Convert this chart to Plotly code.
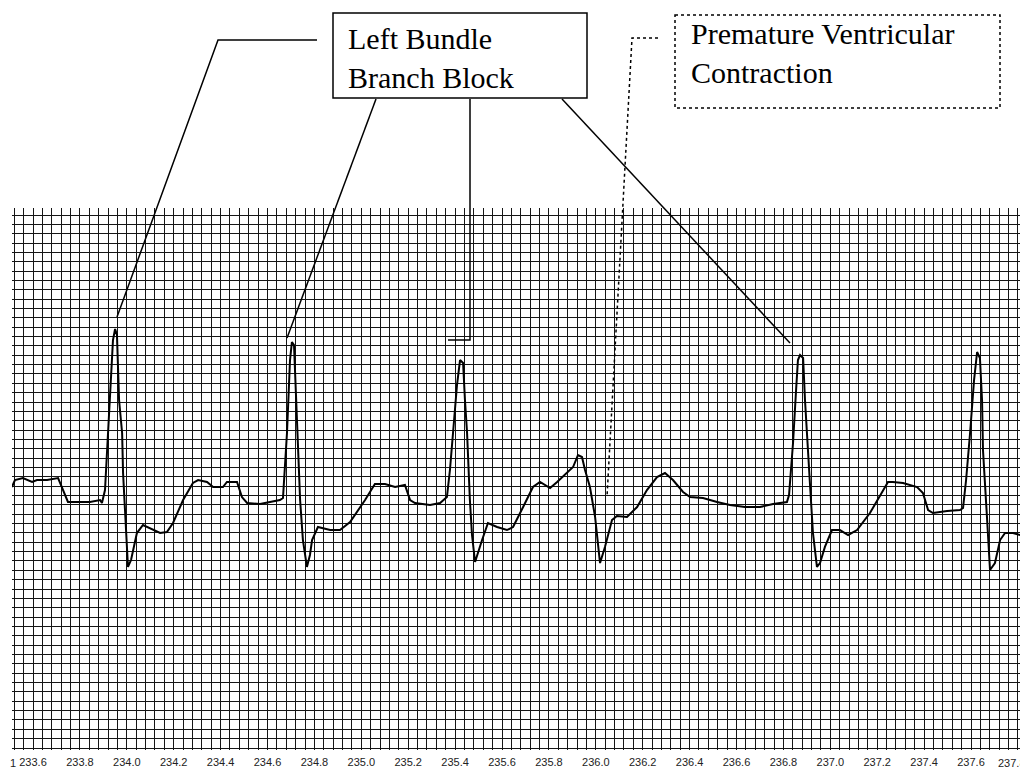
import plotly.graph_objects as go

# ECG trace (time in s, amplitude in mV)
time_s = [
    233.510, 233.523, 233.557, 233.596, 233.617, 233.660, 233.707, 233.728, 233.749, 233.800,
    233.843, 233.886, 233.894, 233.907, 233.924, 233.941, 233.950, 233.958, 233.967, 233.980,
    233.984, 233.992, 234.005, 234.018, 234.043, 234.069, 234.099, 234.142, 234.171, 234.197,
    234.240, 234.282, 234.304, 234.342, 234.368, 234.410, 234.427, 234.470, 234.491, 234.513,
    234.568, 234.653, 234.666, 234.683, 234.696, 234.704, 234.713, 234.722, 234.730, 234.739,
    234.751, 234.768, 234.781, 234.790, 234.815, 234.867, 234.909, 234.952, 235.016, 235.058,
    235.101, 235.144, 235.186, 235.208, 235.229, 235.293, 235.336, 235.365, 235.378, 235.391,
    235.408, 235.421, 235.434, 235.442, 235.451, 235.463, 235.472, 235.485, 235.498, 235.515,
    235.540, 235.579, 235.621, 235.647, 235.690, 235.732, 235.762, 235.805, 235.835, 235.877,
    235.903, 235.924, 235.941, 235.954, 235.975, 235.997, 236.018, 236.039, 236.069, 236.090,
    236.133, 236.176, 236.218, 236.261, 236.295, 236.329, 236.372, 236.402, 236.457, 236.517,
    236.572, 236.636, 236.700, 236.756, 236.815, 236.824, 236.841, 236.854, 236.862, 236.871,
    236.884, 236.892, 236.901, 236.913, 236.926, 236.943, 236.956, 236.977, 237.007, 237.041,
    237.076, 237.114, 237.169, 237.212, 237.246, 237.267, 237.310, 237.370, 237.395, 237.417,
    237.438, 237.498, 237.553, 237.566, 237.579, 237.596, 237.613, 237.626, 237.638, 237.647,
    237.651, 237.668, 237.681, 237.702, 237.724, 237.745, 237.779, 237.839,
]
amp_mv = [
    2.791, 2.866, 2.887, 2.845, 2.866, 2.866, 2.887, 2.759, 2.631, 2.631,
    2.631, 2.652, 2.620, 2.759, 3.508, 4.363, 4.481, 4.417, 3.722, 3.369,
    2.941, 2.577, 1.936, 2.010, 2.299, 2.385, 2.353, 2.299, 2.310, 2.406,
    2.652, 2.834, 2.866, 2.845, 2.791, 2.791, 2.845, 2.845, 2.684, 2.620,
    2.609, 2.652, 2.674, 3.369, 4.149, 4.342, 4.310, 3.722, 3.369, 2.652,
    2.224, 1.936, 2.064, 2.224, 2.363, 2.331, 2.331, 2.417, 2.652, 2.823,
    2.823, 2.791, 2.813, 2.652, 2.620, 2.599, 2.620, 2.684, 2.973, 3.369,
    3.882, 4.149, 4.117, 3.722, 3.369, 2.652, 2.278, 1.989, 2.096, 2.224,
    2.406, 2.363, 2.331, 2.363, 2.577, 2.791, 2.845, 2.780, 2.845, 2.941,
    3.005, 3.133, 3.112, 2.973, 2.791, 2.470, 1.978, 2.150, 2.438, 2.481,
    2.470, 2.577, 2.759, 2.898, 2.941, 2.866, 2.738, 2.684, 2.674, 2.631,
    2.599, 2.577, 2.577, 2.609, 2.631, 2.706, 3.262, 3.828, 4.149, 4.203,
    4.171, 3.722, 3.294, 2.834, 2.299, 1.936, 1.978, 2.150, 2.331, 2.331,
    2.278, 2.331, 2.513, 2.706, 2.845, 2.845, 2.834, 2.791, 2.727, 2.545,
    2.513, 2.534, 2.545, 2.567, 2.866, 3.369, 3.935, 4.235, 4.171, 3.722,
    3.187, 2.470, 1.904, 1.978, 2.224, 2.299, 2.299, 2.256,
]

tick_labels = ["233.6", "233.8", "234.0", "234.2", "234.4", "234.6", "234.8", "235.0",
               "235.2", "235.4", "235.6", "235.8", "236.0", "236.2", "236.4", "236.6",
               "236.8", "237.0", "237.2", "237.4", "237.6", "237.8"]
x_range = [233.5104, 237.843]
y_range = [-0.0214, 5.775]
small_box_s = 0.04
small_box_mv = 0.1

label_lbbb = "Left Bundle<br>Branch Block"
label_pvc = "Premature Ventricular<br>Contraction"

# gridline positions: one every small box, labels only on the major ones
grid_t = []
k = 0
while 233.52 + k * small_box_s < x_range[1]:
    grid_t.append(round(233.52 + k * small_box_s, 2))
    k += 1
# the last label sits on the right edge of the page; it is drawn as an annotation
label_map = {float(s): s for s in tick_labels[:-1]}
grid_text = [label_map.get(v, "") for v in grid_t]

# page offset (the html body has an 8px margin)
OFF = 8
W, H = 1028 - OFF, 781 - OFF
PL, PR, PT, PB = 12, 1028, 208, 750          # plot area on the page
ML, MR, MT, MB = PL - OFF, 0, PT - OFF, 781 - PB
PW, PH = PR - PL, PB - PT


def P(px, py):
    """page pixel -> paper coordinates"""
    return (px - PL) / PW, (PB - py) / PH


def path(points):
    s = ""
    for i, (px, py) in enumerate(points):
        x, y = P(px, py)
        s += ("M" if i == 0 else "L") + f"{x:.5f},{y:.5f} "
    return s.strip()


grid_col = "#151515"
tick_font = dict(family="Liberation Sans", size=11, color="#222")

fig = go.Figure(
    go.Scatter(
        x=time_s, y=amp_mv, mode="lines",
        line=dict(color="black", width=2), hoverinfo="skip",
    )
)

shapes = []
x0, y0 = P(333, 13)
x1, y1 = P(587, 98)
shapes.append(dict(type="rect", xref="paper", yref="paper", x0=x0, y0=y0, x1=x1, y1=y1,
                   line=dict(color="black", width=1.5), fillcolor="white", layer="above"))
x0, y0 = P(675, 15)
x1, y1 = P(1000, 108)
shapes.append(dict(type="rect", xref="paper", yref="paper", x0=x0, y0=y0, x1=x1, y1=y1,
                   line=dict(color="black", width=1.5, dash="dot"), fillcolor="white", layer="above"))
for pts in [
    [(317, 40), (218, 40), (117, 317)],
    [(376, 99), (287, 338)],
    [(470, 99), (470, 340), (448, 340)],
    [(562, 99), (790, 343)],
]:
    shapes.append(dict(type="path", xref="paper", yref="paper", path=path(pts),
                       line=dict(color="black", width=1.5), layer="above"))
shapes.append(dict(type="path", xref="paper", yref="paper",
                   path=path([(658, 38), (632, 38), (607, 497)]),
                   line=dict(color="black", width=1.5, dash="dot"), layer="above"))

annotations = []
ax, ay = P(346, 58)
annotations.append(dict(xref="paper", yref="paper", x=ax, y=ay, xanchor="left", yanchor="middle",
                        text=label_lbbb, showarrow=False, align="left",
                        font=dict(family="Liberation Serif", size=30, color="black")))
ax, ay = P(689, 53)
annotations.append(dict(xref="paper", yref="paper", x=ax, y=ay, xanchor="left", yanchor="middle",
                        text=label_pvc, showarrow=False, align="left",
                        font=dict(family="Liberation Serif", size=30, color="black")))
ax, ay = P(8, 763)
annotations.append(dict(xref="paper", yref="paper", x=ax, y=ay, xanchor="left", yanchor="middle",
                        text="1", showarrow=False, font=tick_font))
ax, ay = P(1028, 763)
annotations.append(dict(xref="paper", yref="paper", x=ax, y=ay, xanchor="right", yanchor="middle",
                        text=tick_labels[-1], showarrow=False, font=tick_font))

fig.update_layout(
    width=W, height=H,
    margin=dict(l=ML, r=MR, t=MT, b=MB, pad=0),
    paper_bgcolor="white", plot_bgcolor="white",
    showlegend=False,
    shapes=shapes,
    annotations=annotations,
    xaxis=dict(
        range=x_range, tickmode="array", tickvals=grid_t, ticktext=grid_text,
        showgrid=True, gridcolor=grid_col, gridwidth=1,
        zeroline=False, showline=False, ticks="", ticklabelstandoff=4,
        tickfont=tick_font,
    ),
    yaxis=dict(
        range=y_range, tick0=0, dtick=small_box_mv,
        showgrid=True, gridcolor=grid_col, gridwidth=1,
        zeroline=False, showline=False, showticklabels=False, ticks="",
    ),
)

fig.write_html("out.html")
